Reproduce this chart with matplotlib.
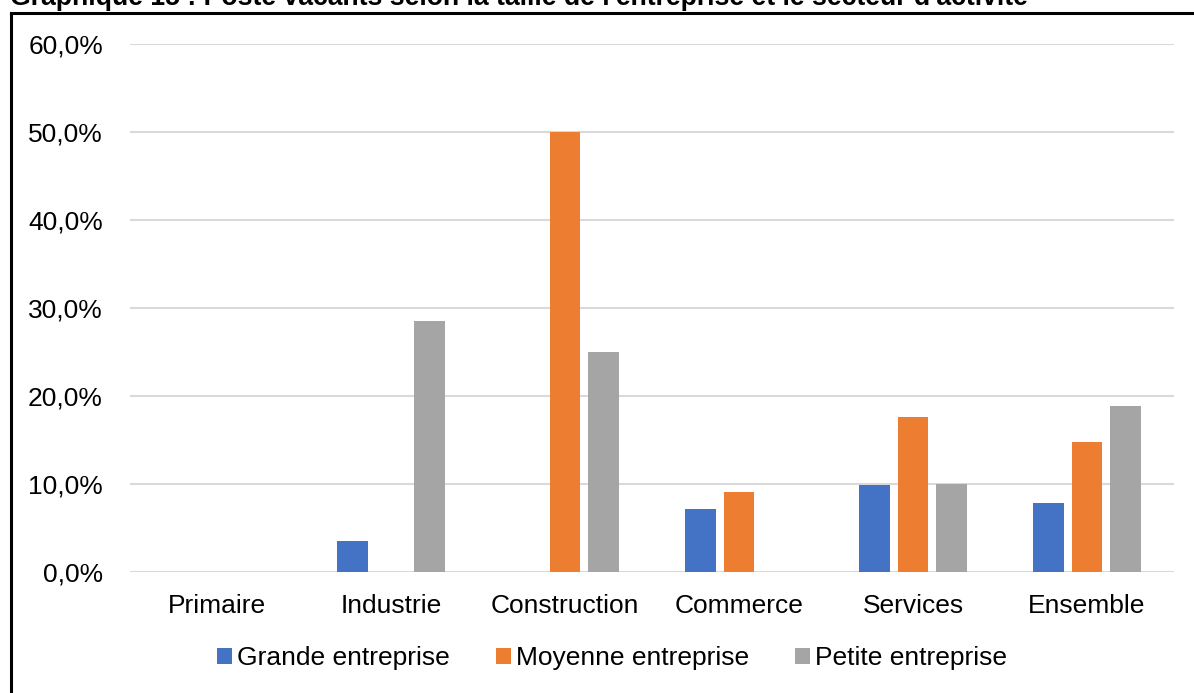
import numpy as np
import matplotlib.pyplot as plt
from matplotlib.lines import Line2D
from matplotlib.ticker import FuncFormatter

plt.rcParams['font.family'] = ['Liberation Sans', 'DejaVu Sans']

secteurs = ['Primaire', 'Industrie', 'Construction', 'Commerce', 'Services', 'Ensemble']
grande = [0.0, 3.5, 0.0, 7.2, 9.9, 7.8]
moyenne = [0.0, 0.0, 50.0, 9.1, 17.6, 14.8]
petite = [0.0, 28.5, 25.0, 0.0, 10.0, 18.9]
series = ['Grande entreprise', 'Moyenne entreprise', 'Petite entreprise']
couleurs = ['#4472C4', '#ED7D31', '#A5A5A5']

fig = plt.figure(figsize=(11.94, 6.93), dpi=100)
ax = fig.add_axes([130 / 1194, 1 - 572 / 693, 1044 / 1194, 528 / 693])

x = np.arange(len(secteurs))
w = 0.178
for i, (vals, nom, c) in enumerate(zip([grande, moyenne, petite], series, couleurs)):
    ax.bar(x + (i - 1) * 0.222, np.array(vals) / 100, w, color=c, label=nom, zorder=3)

ax.set_xlim(-0.5, len(secteurs) - 0.5)
ax.set_ylim(0, 0.6)
ax.set_yticks(np.arange(0, 0.61, 0.1))
ax.yaxis.set_major_formatter(FuncFormatter(lambda v, p: f'{v * 100:.1f}%'.replace('.', ',')))
ax.set_xticks(x)
ax.set_xticklabels(secteurs)
ax.tick_params(axis='both', length=0, labelsize=19, colors='black')
ax.tick_params(axis='y', pad=19.5)
ax.tick_params(axis='x', pad=15.5)
ax.grid(axis='y', color='#D9D9D9', linewidth=1.5, zorder=0)
for s in ax.spines.values():
    s.set_visible(False)

fig.legend(loc='center', bbox_to_anchor=(612 / 1194, 1 - 658 / 693), ncol=3, frameon=False,
           fontsize=19, handlelength=0.56, handleheight=0.56, handletextpad=0.2,
           columnspacing=1.75)

# cadre du graphique (gauche et haut)
fig.add_artist(Line2D([10.5 / 1194, 10.5 / 1194], [0, 1 - 12.5 / 693], color='black', lw=2.2,
                      transform=fig.transFigure))
fig.add_artist(Line2D([10.5 / 1194, 1], [1 - 12.5 / 693, 1 - 12.5 / 693], color='black', lw=2.2,
                      transform=fig.transFigure))

fig.text(10 / 1194, 1 - 5 / 693,
         "Graphique 15 : Poste vacants selon la taille de l'entreprise et le secteur d'activité",
         fontsize=19.2, fontweight='bold', ha='left', va='baseline')

fig.savefig('out.png', dpi=100)
